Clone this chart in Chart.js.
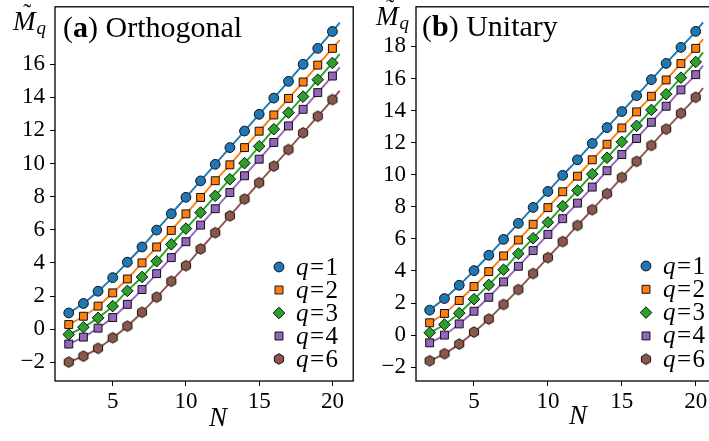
<!DOCTYPE html>
<html>
<head>
<meta charset="utf-8">
<script src="https://cdn.jsdelivr.net/npm/chart.js@4/dist/chart.umd.min.js"></script>
<style>
  html, body { margin: 0; padding: 0; background: #fff; overflow: hidden; width: 709px; height: 441px; }
  #left { position: absolute; left: 0; top: 0; }
  #right { position: absolute; left: 360px; top: 0; }
</style>
</head>
<body>
<canvas id="left" width="360" height="441"></canvas>
<canvas id="right" width="370" height="441"></canvas>
<script>
// system size N
const sizes = [2, 3, 4, 5, 6, 7, 8, 9, 10, 11, 12, 13, 14, 15, 16, 17, 18, 19, 20]
const qLabels = ['1', '2', '3', '4', '6']

// (a) Orthogonal
const orthQ1 = [0.98, 1.55, 2.29, 3.11, 4.04, 4.96, 5.98, 6.97, 7.96, 8.95, 9.95, 10.96, 11.96, 12.97, 13.95, 14.96, 15.99, 16.95, 17.97]
const orthQ2 = [0.28, 0.78, 1.39, 2.19, 3.03, 4.00, 4.96, 5.96, 6.96, 7.95, 8.96, 9.92, 10.96, 11.95, 12.93, 13.93, 14.92, 15.94, 16.95]
const orthQ3 = [-0.32, 0.12, 0.68, 1.39, 2.31, 3.15, 4.10, 5.12, 6.07, 7.04, 8.05, 9.05, 10.02, 11.04, 12.07, 13.07, 14.04, 15.06, 16.07]
const orthQ4 = [-0.90, -0.48, 0.06, 0.70, 1.50, 2.39, 3.35, 4.32, 5.28, 6.28, 7.27, 8.25, 9.26, 10.26, 11.27, 12.27, 13.27, 14.28, 15.28]
const orthQ6 = [-1.99, -1.63, -1.16, -0.52, 0.18, 1.02, 1.93, 2.89, 3.83, 4.84, 5.82, 6.84, 7.85, 8.84, 9.84, 10.84, 11.85, 12.85, 13.86]
// where the fitted curves stop, just past N=20
const curveEndN = 20.5
const orthCurveEnd = [18.51, 17.45, 16.60, 15.80, 14.40]

// (b) Unitary
const uniQ1 = [1.56, 2.28, 3.11, 4.02, 4.98, 5.97, 6.97, 7.96, 8.96, 9.96, 10.93, 11.95, 12.94, 13.94, 14.93, 15.93, 16.94, 17.94, 18.94]
const uniQ2 = [0.77, 1.35, 2.16, 3.03, 3.96, 4.94, 5.93, 6.91, 7.95, 8.94, 9.91, 10.93, 11.90, 12.92, 13.92, 14.89, 15.91, 16.93, 17.88]
const uniQ3 = [0.15, 0.66, 1.37, 2.24, 3.13, 4.08, 5.08, 6.04, 7.03, 8.04, 9.02, 10.04, 11.06, 12.05, 13.05, 14.04, 15.02, 16.05, 17.03]
const uniQ4 = [-0.48, 0.00, 0.70, 1.49, 2.36, 3.32, 4.29, 5.27, 6.28, 7.26, 8.23, 9.23, 10.25, 11.26, 12.26, 13.27, 14.27, 15.29, 16.24]
const uniQ6 = [-1.60, -1.16, -0.56, 0.19, 1.00, 1.91, 2.84, 3.84, 4.83, 5.83, 6.84, 7.82, 8.82, 9.83, 10.83, 11.83, 12.84, 13.83, 14.83]
const uniCurveEnd = [19.50, 18.46, 17.63, 16.80, 15.40]

const xTicks = [5, 10, 15, 20]
const orthYTicks = [-2, 0, 2, 4, 6, 8, 10, 12, 14, 16]
const uniYTicks = [-2, 0, 2, 4, 6, 8, 10, 12, 14, 16, 18]

const SERIF = '"Liberation Serif"'
Chart.defaults.font.family = SERIF
const colors = ['#1f77b4', '#ff7f0e', '#2ca02c', '#9467bd', '#8c564b']

// matplotlib-style hexagon marker
function hexagon(r, fill) {
    const c = document.createElement('canvas')
    const s = Math.ceil(2 * r + 3)
    c.width = s; c.height = s
    const g = c.getContext('2d')
    g.beginPath()
    for (let i = 0; i < 6; i++) {
        const a = -Math.PI / 2 + i * Math.PI / 3
        const px = s / 2 + r * Math.cos(a), py = s / 2 + r * Math.sin(a)
        if (i === 0) g.moveTo(px, py); else g.lineTo(px, py)
    }
    g.closePath()
    g.fillStyle = fill; g.fill()
    g.strokeStyle = '#111'; g.lineWidth = 1; g.stroke()
    return c
}
const hexMarker = hexagon(5.3, colors[4])

const markers = [
    { style: 'circle', radius: 4.9 },
    { style: 'rect', radius: 5.6 },
    { style: 'rectRot', radius: 5.8 },
    { style: 'rect', radius: 5.6 },
    { style: hexMarker, radius: 5.3 },
]

function buildDatasets(series, curveEnd) {
    const out = []
    series.forEach((vals, i) => {
        const pts = sizes.map((n, k) => ({ x: n, y: vals[k] }))
        out.push({
            label: 'curve' + i,
            data: pts.concat([{ x: curveEndN, y: curveEnd[i] }]),
            showLine: true,
            borderColor: colors[i],
            borderWidth: 1.9,
            pointRadius: 0,
            cubicInterpolationMode: 'monotone',
            order: 2,
        })
    })
    series.forEach((vals, i) => {
        out.push({
            label: 'q=' + qLabels[i],
            data: sizes.map((n, k) => ({ x: n, y: vals[k] })),
            showLine: false,
            pointStyle: markers[i].style,
            pointRadius: markers[i].radius,
            pointHoverRadius: markers[i].radius,
            backgroundColor: colors[i],
            borderColor: '#111',
            borderWidth: 1,
            order: 1,
        })
    })
    return out
}

function drawMarker(ctx, i, x, y) {
    const m = markers[i]
    ctx.save()
    ctx.fillStyle = colors[i]
    ctx.strokeStyle = '#111'
    ctx.lineWidth = 1
    if (m.style === 'circle') {
        ctx.beginPath(); ctx.arc(x, y, m.radius, 0, 2 * Math.PI); ctx.fill(); ctx.stroke()
    } else if (m.style === 'rect') {
        const s = m.radius * Math.SQRT1_2
        ctx.beginPath(); ctx.rect(x - s, y - s, 2 * s, 2 * s); ctx.fill(); ctx.stroke()
    } else if (m.style === 'rectRot') {
        const r = m.radius
        ctx.beginPath(); ctx.moveTo(x, y - r); ctx.lineTo(x + r, y); ctx.lineTo(x, y + r); ctx.lineTo(x - r, y); ctx.closePath()
        ctx.fill(); ctx.stroke()
    } else {
        ctx.drawImage(m.style, x - m.style.width / 2, y - m.style.height / 2)
    }
    ctx.restore()
}

// frame, panel tag, axis labels and the legend
const panelDecor = {
    id: 'panelDecor',
    afterDraw(chart, args, o) {
        const ctx = chart.ctx
        const a = chart.chartArea
        ctx.save()
        ctx.strokeStyle = '#000'
        ctx.lineWidth = 1.3
        ctx.strokeRect(a.left, a.top, a.right - a.left, a.bottom - a.top)

        ctx.fillStyle = '#000'
        ctx.textBaseline = 'alphabetic'
        ctx.textAlign = 'left'

        // panel tag "(a) Orthogonal"
        let x = o.tagX
        ctx.font = '30px ' + SERIF
        ctx.fillText('(', x, o.tagY); x += ctx.measureText('(').width
        ctx.font = 'bold 30px ' + SERIF
        ctx.fillText(o.letter, x, o.tagY); x += ctx.measureText(o.letter).width
        ctx.font = '30px ' + SERIF
        ctx.fillText(') ' + o.name, x, o.tagY)

        // y label  M~_q
        ctx.font = 'italic 27px ' + SERIF
        ctx.fillText('M', o.mX, o.mY)
        const mw = ctx.measureText('M').width
        ctx.font = '24px ' + SERIF
        ctx.textAlign = 'center'
        ctx.fillText('\u02DC', o.mX + mw / 2 + 3, o.mY - 10)
        ctx.textAlign = 'left'
        ctx.font = 'italic 19px ' + SERIF
        ctx.fillText('q', o.mX + mw + 1, o.mY + 4)

        // x label
        ctx.font = 'italic 27px ' + SERIF
        ctx.textAlign = 'center'
        ctx.fillText('N', o.nX, o.nY)

        // legend
        ctx.textAlign = 'left'
        ctx.textBaseline = 'middle'
        qLabels.forEach((q, i) => {
            const y = o.legY + i * o.legStep
            drawMarker(ctx, i, o.legX, y)
            let tx = o.legX + 17
            ctx.font = 'italic 25px ' + SERIF
            ctx.fillText('q', tx, y + 1); tx += ctx.measureText('q').width + 1.5
            ctx.font = '25px ' + SERIF
            ctx.fillText('=', tx, y + 1); tx += ctx.measureText('=').width + 1.5
            ctx.fillText(q, tx, y + 1)
        })
        ctx.restore()
    }
}

function fmt(v) {
    return v < 0 ? '\u2212' + Math.abs(v) : String(v)
}

function makeConfig(series, curveEnd, yTicks, ymin, ymax, xmin, yWidth, padRight, decor) {
    return {
        type: 'scatter',
        data: { datasets: buildDatasets(series, curveEnd) },
        plugins: [panelDecor],
        options: {
            responsive: false,
            animation: false,
            layout: { padding: { top: 6, right: padRight, bottom: 0, left: 0 } },
            plugins: {
                legend: { display: false },
                tooltip: { enabled: false },
                panelDecor: decor,
            },
            scales: {
                x: {
                    type: 'linear',
                    min: xmin,
                    max: 21.42,
                    border: { display: false },
                    grid: { drawOnChartArea: false, drawTicks: true, tickLength: 5, color: '#000', lineWidth: 1 },
                    ticks: { color: '#000', font: { family: SERIF, size: 23 }, padding: 2, maxRotation: 0 },
                    afterBuildTicks: s => { s.ticks = xTicks.map(v => ({ value: v })) },
                    afterFit: s => { s.height = 60; s.paddingLeft = 0; s.paddingRight = 0 },
                },
                y: {
                    type: 'linear',
                    min: ymin,
                    max: ymax,
                    border: { display: false },
                    grid: { drawOnChartArea: false, drawTicks: true, tickLength: 5, color: '#000', lineWidth: 1 },
                    ticks: { color: '#000', font: { family: SERIF, size: 23 }, padding: 5, callback: v => fmt(v) },
                    afterBuildTicks: s => { s.ticks = yTicks.map(v => ({ value: v })) },
                    afterFit: s => { s.width = yWidth; s.paddingTop = 0; s.paddingBottom = 0 },
                },
            },
        },
    }
}

new Chart(document.getElementById('left'), makeConfig(
    [orthQ1, orthQ2, orthQ3, orthQ4, orthQ6], orthCurveEnd, orthYTicks,
    -3.13, 19.46, 1.06, 55, 4,
    { letter: 'a', name: 'Orthogonal', tagX: 63, tagY: 37, mX: 13, mY: 30, nX: 218, nY: 426, legX: 279, legY: 267, legStep: 23 }
))

new Chart(document.getElementById('right'), makeConfig(
    [uniQ1, uniQ2, uniQ3, uniQ4, uniQ6], uniCurveEnd, uniYTicks,
    -2.86, 20.47, 1.076, 56, 13.3,
    { letter: 'b', name: 'Unitary', tagX: 62, tagY: 36, mX: 16, mY: 25, nX: 218, nY: 424, legX: 286, legY: 266, legStep: 23.3 }
))
</script>
</body>
</html>
